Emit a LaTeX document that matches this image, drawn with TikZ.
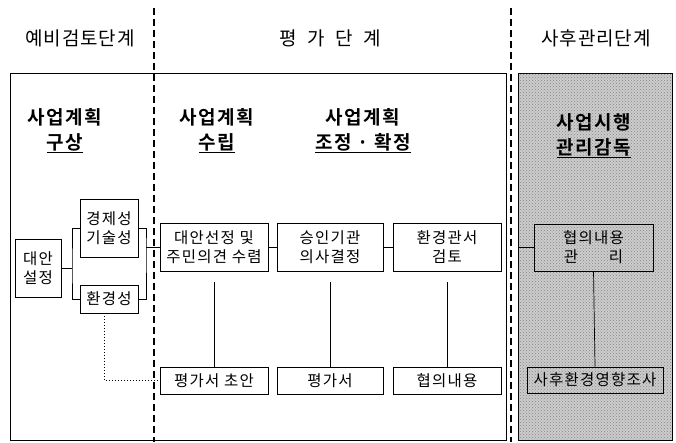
\documentclass[tikz,border=0pt]{standalone}
\usepackage{fontspec}
\setmainfont{Noto Sans CJK KR}[BoldFont={Noto Sans CJK KR Bold}]
\usetikzlibrary{patterns}
\begin{document}
\begin{tikzpicture}[x=1pt,y=-1pt,
  line width=0.8pt,
  box/.style={draw, line width=0.8pt, inner sep=0pt, align=center, font=\fontsize{15.5}{19}\selectfont\addfontfeature{LetterSpace=8}},
  head/.style={inner sep=0pt, font=\fontsize{19}{20}\selectfont\addfontfeature{LetterSpace=5}},
  ttl/.style={inner sep=0pt, font=\fontsize{19}{20}\selectfont\bfseries\addfontfeature{LetterSpace=8}},
  phase/.style={line width=2.6pt, dash pattern=on 7pt off 4pt},
  conn/.style={line width=0.7pt}
]
\useasboundingbox (0,0) rectangle (676,442);
% frames
\node[draw, line width=1pt, minimum width=496pt, minimum height=367pt, inner sep=0pt] (main) at (258,256.5) {};
\node[draw, line width=1pt, fill=gray!40, minimum width=154pt, minimum height=367pt, inner sep=0pt] (post) at (595,256.5) {};
\fill[pattern=crosshatch dots, pattern color=gray!95] ([shift={(1pt,-1pt)}]post.north west) rectangle ([shift={(-1pt,1pt)}]post.south east);
% phase separators
\coordinate (d1t) at (154,8); \coordinate (d1b) at (154,442);
\coordinate (d2t) at (511,8); \coordinate (d2b) at (511,442);
\draw[phase] (d1t) -- (d1b);
\draw[phase] (d2t) -- (d2b);
% headers
\node[head] (h1) at (80,38) {예비검토단계};
\node[head] (h2) at (330,38) {평\ \ 가\ \ 단\ \ 계};
\node[head] (h3) at (596,38) {사후관리단계};
% titles
\node[ttl] (t1a) at (65,117) {사업계획};
\node[ttl] (t1b) at (65,143) {\underline{구상}};
\node[ttl] (t2a) at (217,117) {사업계획};
\node[ttl] (t2b) at (217,143) {\underline{수립}};
\node[ttl] (t3a) at (363,117) {사업계획};
\node[ttl] (t3b) at (363,143) {\underline{조정 · 확정}};
\node[ttl] (t4a) at (594,122) {사업시행};
\node[ttl] (t4b) at (594,148) {\underline{관리감독}};
% boxes
\node[box, fill=white, minimum width=46pt, minimum height=58pt] (dae) at (38,268) {대안\\설정};
\node[box, minimum width=58pt, minimum height=58pt] (gyeong) at (109,228) {경제성\\기술성};
\node[box, minimum width=58pt, minimum height=28pt] (hwan) at (109,299) {환경성};
\node[box, minimum width=108pt, minimum height=48pt] (daean) at (214,247) {대안선정 및\\주민의견 수렴};
\node[box, minimum width=106pt, minimum height=48pt] (seung) at (330,247) {승인기관\\의사결정};
\node[box, minimum width=108pt, minimum height=48pt] (hwangy) at (447,247) {환경관서\\검토};
\node[box, minimum width=119pt, minimum height=47pt] (hyup) at (593.5,247.5) {협의내용\\관\qquad 리};
\node[box, minimum width=108pt, minimum height=27pt] (draft) at (214,380.5) {평가서 초안};
\node[box, minimum width=106pt, minimum height=27pt] (report) at (330,380.5) {평가서};
\node[box, minimum width=108pt, minimum height=27pt] (content) at (447,380.5) {협의내용};
\node[box, minimum width=136pt, minimum height=26pt] (sahu) at (595,380) {사후환경영향조사};
% connectors
\coordinate (bl) at (72,268);
\coordinate (br) at (146,247);
\draw[conn] (dae.east) -- (bl);
\draw[conn] (gyeong.west) -| (bl) |- (hwan.west);
\draw[conn] (gyeong.east) -| (br) |- (hwan.east);
\draw[conn] (br) -- (daean.west);
\draw[conn] (daean) -- (seung);
\draw[conn] (seung) -- (hwangy);
\draw[conn] (hyup.west) -- (hyup.west -| post.west);
\draw[conn] ([yshift=-11pt]daean.south) -- (draft.north);
\draw[conn] ([yshift=-11pt]seung.south) -- (report.north);
\draw[conn] ([yshift=-11pt]hwangy.south) -- (content.north);
\draw[conn] (hyup.south) -- (sahu.north);
\draw[line width=1pt, dotted] ([xshift=-5pt]hwan.south) |- (draft.west);
\end{tikzpicture}
\end{document}
